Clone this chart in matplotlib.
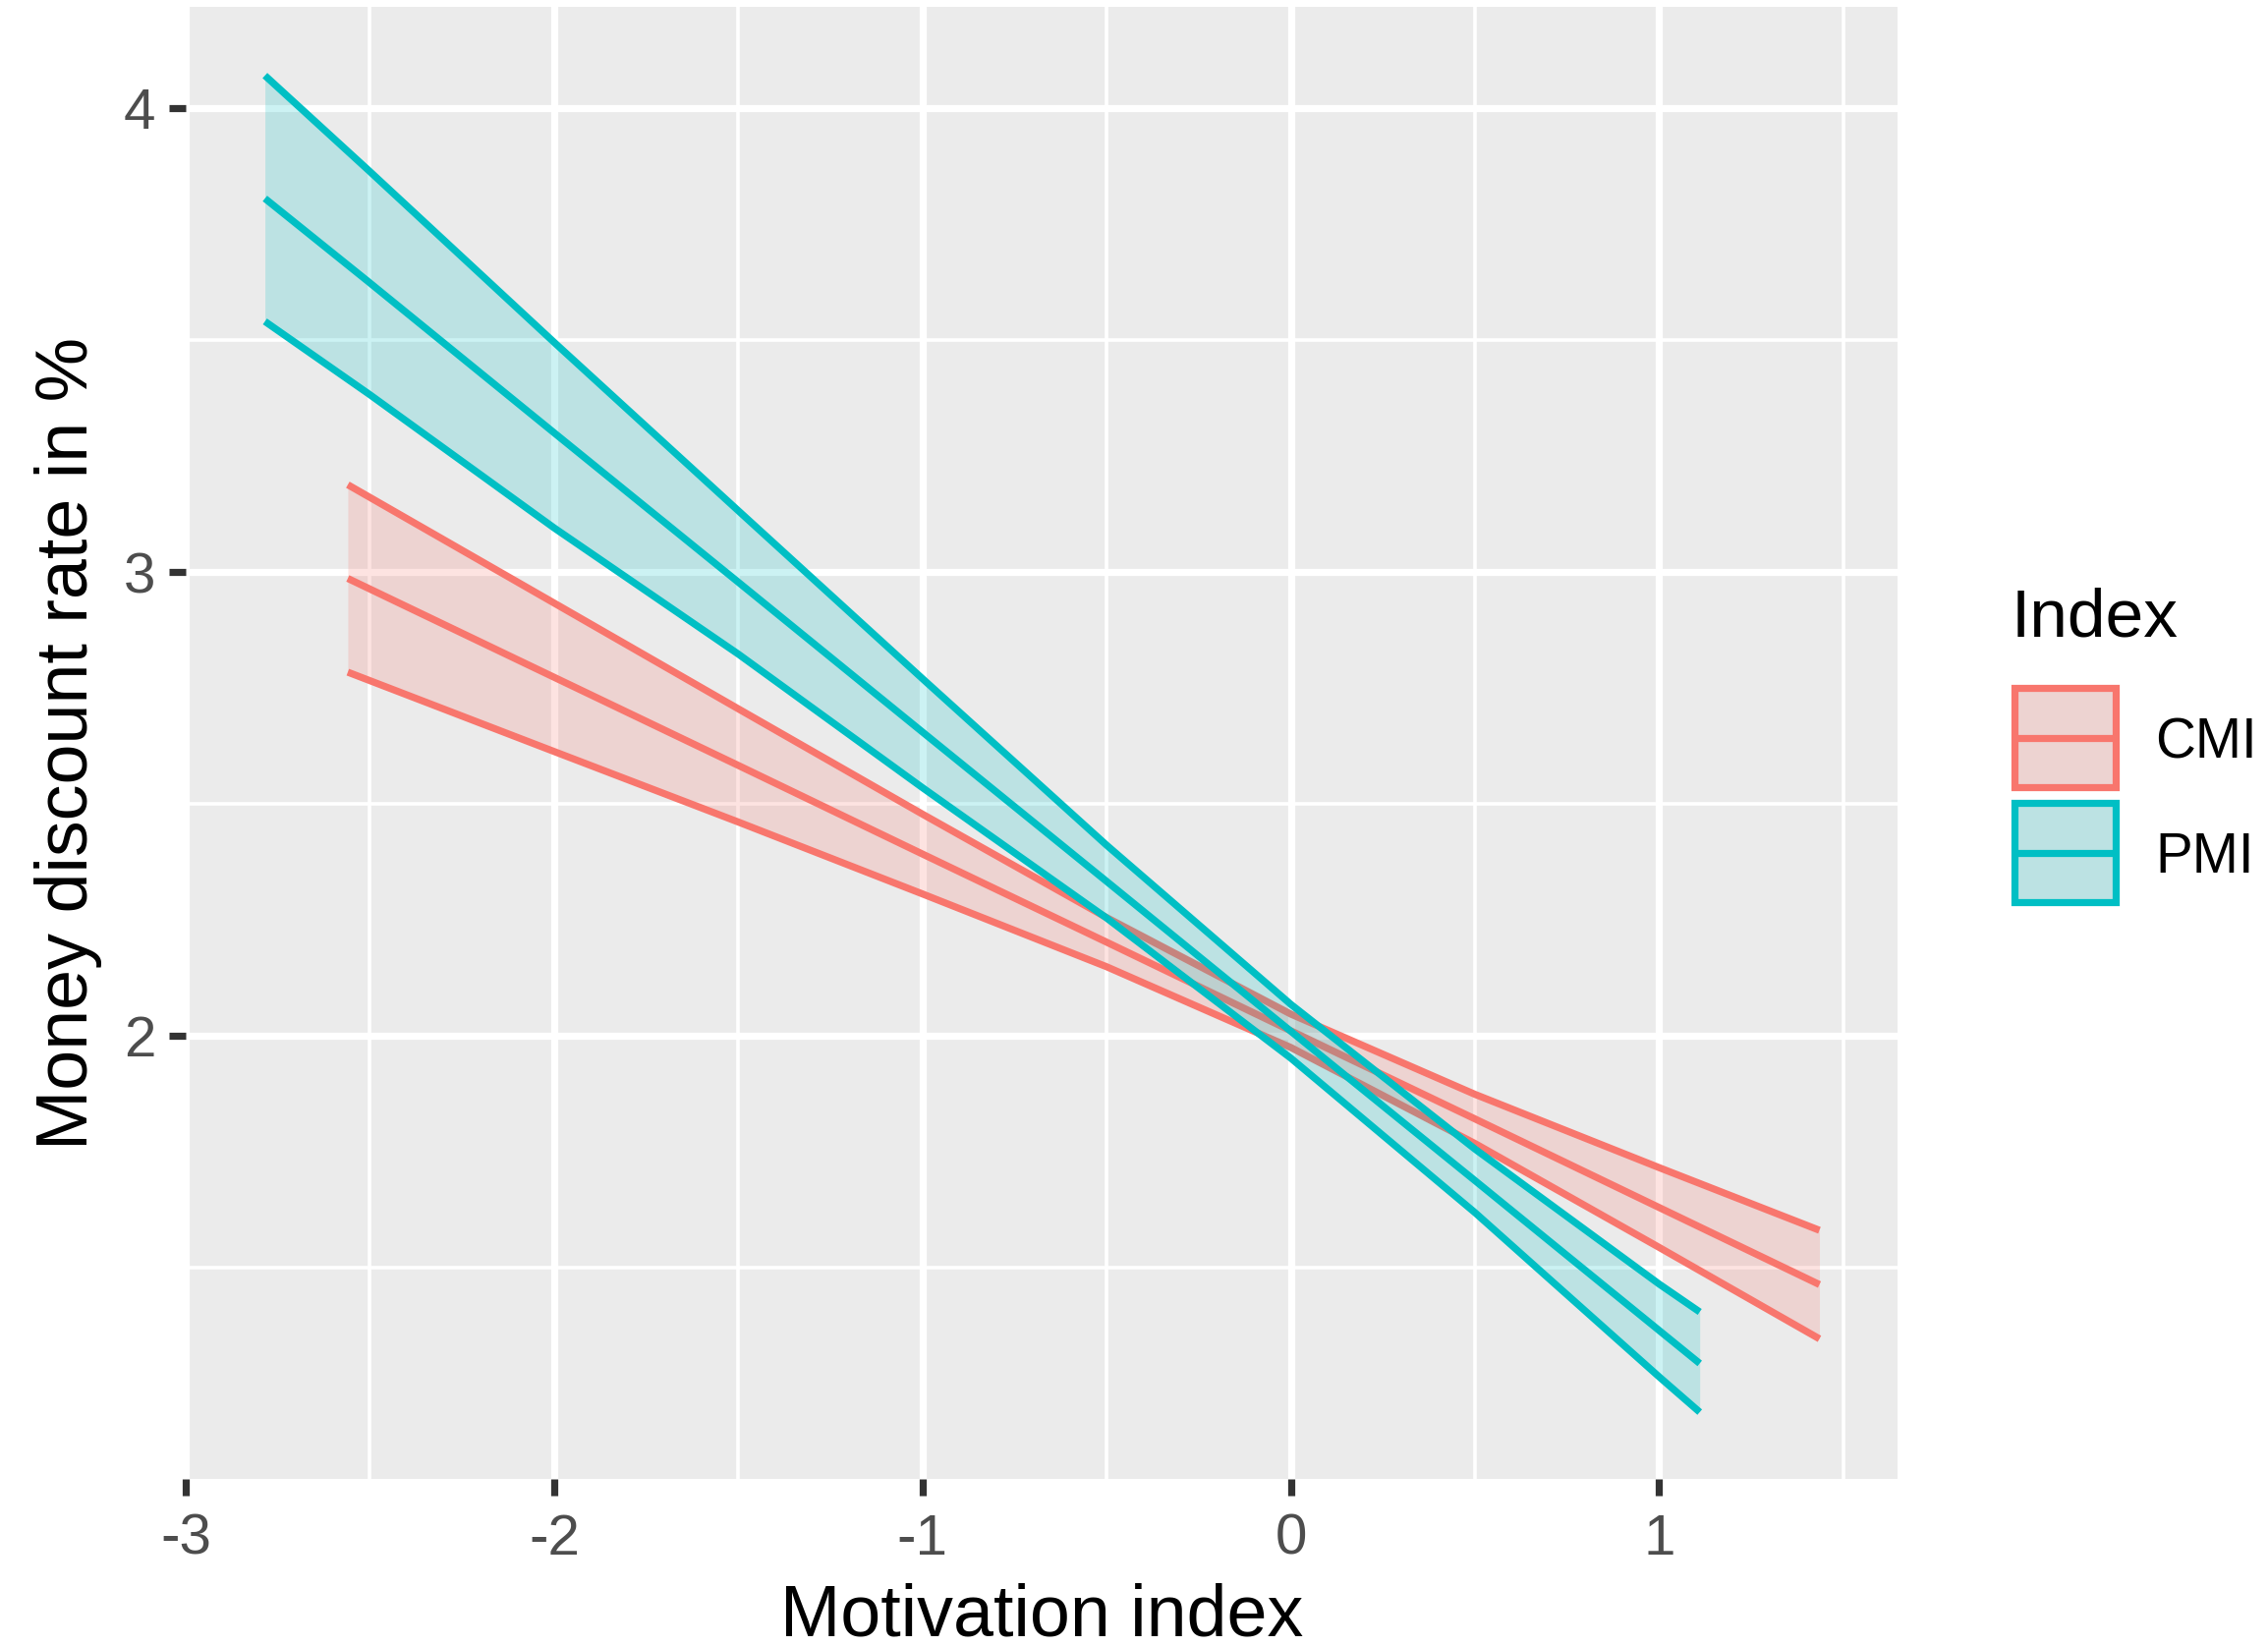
import matplotlib
matplotlib.use('Agg')
import matplotlib.pyplot as plt
from matplotlib.patches import Rectangle
from matplotlib.lines import Line2D
from matplotlib.ticker import FixedLocator

plt.rcParams['font.family'] = ['Liberation Sans', 'DejaVu Sans']

# ---- data ----
groups = ['CMI', 'PMI']
colors = {'CMI': '#F8766D', 'PMI': '#00BFC4'}

cmi_x = [-2.56, -2.0, -1.5, -1.0, -0.5, 0.0, 0.5, 1.0, 1.435]
cmi_fit = [2.986, 2.773, 2.583, 2.392, 2.202, 2.011, 1.821, 1.630, 1.464]
cmi_lower = [2.784, 2.613, 2.461, 2.306, 2.149, 1.975, 1.768, 1.544, 1.347]
cmi_upper = [3.188, 2.933, 2.705, 2.478, 2.255, 2.047, 1.874, 1.716, 1.581]

pmi_x = [-2.785, -2.5, -2.0, -1.5, -1.0, -0.5, 0.0, 0.5, 1.0, 1.11]
pmi_fit = [3.805, 3.623, 3.300, 2.978, 2.655, 2.333, 2.010, 1.688, 1.365, 1.294]
pmi_lower = [3.540, 3.382, 3.095, 2.823, 2.535, 2.254, 1.952, 1.619, 1.265, 1.189]
pmi_upper = [4.070, 3.863, 3.495, 3.132, 2.770, 2.411, 2.068, 1.756, 1.465, 1.405]

x_major = [-3, -2, -1, 0, 1]
x_minor = [-2.5, -1.5, -0.5, 0.5, 1.5]
y_major = [2, 3, 4]
y_minor = [1.5, 2.5, 3.5]

series = {
    'CMI': (cmi_x, cmi_fit, cmi_lower, cmi_upper),
    'PMI': (pmi_x, pmi_fit, pmi_lower, pmi_upper),
}

W, H = 2308, 1675
DPI = 200
fig = plt.figure(figsize=(W / DPI, H / DPI), dpi=DPI)
ax = fig.add_axes([189 / W, 1 - 1505 / H, (1931 - 189) / W, (1505 - 7) / H])
ax.set_facecolor('#EBEBEB')
for s in ax.spines.values():
    s.set_visible(False)

LW = 2.6
for g in groups:
    xs, fit, lo, hi = series[g]
    c = colors[g]
    ax.fill_between(xs, lo, hi, color=c, alpha=0.2, linewidth=0, zorder=2)
    ax.plot(xs, lo, color=c, lw=LW, zorder=2, solid_capstyle='butt')
    ax.plot(xs, hi, color=c, lw=LW, zorder=2, solid_capstyle='butt')
    ax.plot(xs, fit, color=c, lw=LW, zorder=2, solid_capstyle='butt')

ax.set_xlim(-3.0, 1.647)
ax.set_ylim(1.045, 4.218)

ax.xaxis.set_major_locator(FixedLocator(x_major))
ax.xaxis.set_minor_locator(FixedLocator(x_minor))
ax.yaxis.set_major_locator(FixedLocator(y_major))
ax.yaxis.set_minor_locator(FixedLocator(y_minor))
ax.set_xticklabels([str(v) for v in x_major])
ax.set_yticklabels([str(v) for v in y_major])
ax.grid(which='major', color='white', lw=2.6, zorder=1)
ax.grid(which='minor', color='white', lw=1.3, zorder=1)
ax.set_axisbelow(True)
ax.tick_params(which='major', length=6, width=2.6, color='#333333',
               labelcolor='#4D4D4D', labelsize=21, pad=5)
ax.tick_params(axis='x', which='major', pad=6.5)
ax.tick_params(which='minor', length=0)
for lab in ax.get_xticklabels() + ax.get_yticklabels():
    lab.set_clip_on(False)
for t in ax.xaxis.get_major_ticks():
    t.tick1line.set_clip_on(False)

ax.set_xlabel('Motivation index', fontsize=26.5, labelpad=6)
ax.set_ylabel('Money discount rate in %', fontsize=26.5, labelpad=8)

# ---- legend (drawn manually, ggplot style) ----
def fx(px):
    return px / W

def fy(py):
    return 1 - py / H

fig.text(fx(2047), fy(648), 'Index', fontsize=25, ha='left', va='baseline')
key_top = {'CMI': 700, 'PMI': 817}
for g in groups:
    c = colors[g]
    t = key_top[g]
    fig.add_artist(Rectangle((fx(2050), fy(t + 101)), (2153 - 2050) / W, 101 / H,
                             transform=fig.transFigure, facecolor='#EBEBEB',
                             edgecolor='none'))
    fig.add_artist(Rectangle((fx(2050), fy(t + 101)), (2153 - 2050) / W, 101 / H,
                             transform=fig.transFigure, facecolor=c, alpha=0.2,
                             edgecolor='none'))
    fig.add_artist(Rectangle((fx(2050), fy(t + 101)), (2153 - 2050) / W, 101 / H,
                             transform=fig.transFigure, facecolor='none',
                             edgecolor=c, lw=LW))
    fig.add_artist(Line2D([fx(2055), fx(2148)], [fy(t + 51), fy(t + 51)],
                          transform=fig.transFigure, color=c, lw=LW))
    fig.text(fx(2193), fy(t + 51 + 20), g, fontsize=20.4, ha='left', va='baseline')

fig.savefig('out.png', dpi=DPI, facecolor='white')
